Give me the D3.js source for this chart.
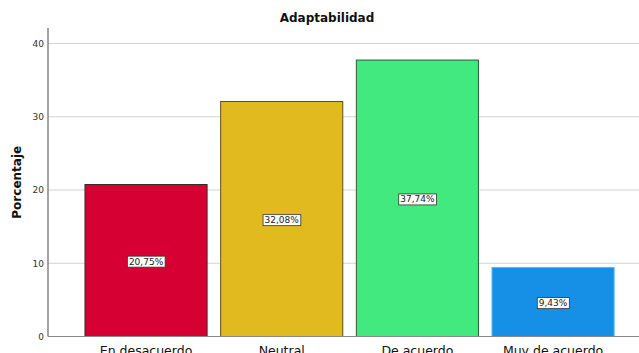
<!DOCTYPE html>
<html>
<head>
<meta charset="utf-8">
<script src="https://cdn.jsdelivr.net/npm/d3@7"></script>
<style>
  html, body { margin: 0; padding: 0; background: #fff; }
  svg { display: block; }
</style>
</head>
<body>
<svg id="chart" width="639" height="353"></svg>
<script>
// Response categories and their percentages
const categories = ["En desacuerdo", "Neutral", "De acuerdo", "Muy de acuerdo"];
const percentages = [20.75, 32.08, 37.74, 9.43];
const valueLabels = ["20,75%", "32,08%", "37,74%", "9,43%"];
const barColors = ["#D70032", "#E1BA20", "#42E97E", "#1590E6"];
const barStrokes = ["#3a2a2a", "#5a5020", "#2a5a3a", "#5ab4f0"];
const yTicks = [0, 10, 20, 30, 40];

const width = 639, height = 353;
const plot = { left: 48, right: 639, top: 28, bottom: 336.5 };

const svg = d3.select("#chart");
const font = "'DejaVu Sans', sans-serif";

const x = d3.scaleBand()
  .domain(categories)
  .range([78.2, 620.9])
  .paddingInner(0.1)
  .paddingOuter(0.05);

const y = d3.scaleLinear()
  .domain([0, 40])
  .range([plot.bottom, 43.5]);

// Horizontal gridlines
svg.append("g")
  .selectAll("line")
  .data(yTicks.filter(d => d > 0))
  .join("line")
  .attr("x1", plot.left)
  .attr("x2", plot.right)
  .attr("y1", d => y(d))
  .attr("y2", d => y(d))
  .attr("stroke", "#d4d4d4")
  .attr("stroke-width", 1);

// Y axis with tick labels
const yAxis = svg.append("g")
  .attr("transform", `translate(${plot.left},0)`)
  .call(d3.axisLeft(y).tickValues(yTicks).tickSize(0).tickPadding(4));
yAxis.select(".domain").remove();
yAxis.selectAll("text")
  .attr("font-family", font)
  .attr("font-size", 9)
  .attr("fill", "#333");

svg.append("line")
  .attr("x1", plot.left).attr("x2", plot.left)
  .attr("y1", plot.top).attr("y2", plot.bottom)
  .attr("stroke", "#666").attr("stroke-width", 1.2);

// Bars
svg.append("g")
  .selectAll("rect")
  .data(categories)
  .join("rect")
  .attr("x", d => x(d))
  .attr("y", (d, i) => y(percentages[i]))
  .attr("width", x.bandwidth())
  .attr("height", (d, i) => y(0) - y(percentages[i]))
  .attr("fill", (d, i) => barColors[i])
  .attr("stroke", (d, i) => barStrokes[i])
  .attr("stroke-width", 1);

// Baseline
svg.append("line")
  .attr("x1", plot.left).attr("x2", plot.right)
  .attr("y1", plot.bottom).attr("y2", plot.bottom)
  .attr("stroke", "#8a8a8a").attr("stroke-width", 1.2);

// Boxed value labels at bar mid-height
const labels = svg.append("g")
  .selectAll("g")
  .data(categories)
  .join("g")
  .attr("transform", (d, i) =>
    `translate(${x(d) + x.bandwidth() / 2},${y(percentages[i] / 2) + 1})`);

labels.each(function (d, i) {
  const g = d3.select(this);
  const t = g.append("text")
    .attr("text-anchor", "middle")
    .attr("dy", "0.35em")
    .attr("font-family", font)
    .attr("font-size", 9)
    .attr("fill", "#222")
    .text(valueLabels[i]);
  const bb = t.node().getBBox();
  g.insert("rect", "text")
    .attr("x", bb.x - 1.5)
    .attr("y", bb.y - 0.5)
    .attr("width", bb.width + 3)
    .attr("height", bb.height + 1)
    .attr("fill", "#fff")
    .attr("stroke", "#333")
    .attr("stroke-width", 0.8);
});

// Category labels
svg.append("g")
  .selectAll("text")
  .data(categories)
  .join("text")
  .attr("x", d => x(d) + x.bandwidth() / 2)
  .attr("y", 354.5)
  .attr("text-anchor", "middle")
  .attr("font-family", font)
  .attr("font-size", 12.5)
  .attr("fill", "#111")
  .text(d => d);

// Y axis title
svg.append("text")
  .attr("transform", `translate(21,${(plot.top + plot.bottom) / 2}) rotate(-90)`)
  .attr("text-anchor", "middle")
  .attr("font-family", font)
  .attr("font-size", 12)
  .attr("font-weight", "bold")
  .attr("fill", "#111")
  .text("Porcentaje");

// Chart title
svg.append("text")
  .attr("x", 327)
  .attr("y", 22)
  .attr("text-anchor", "middle")
  .attr("font-family", font)
  .attr("font-size", 12)
  .attr("font-weight", "bold")
  .attr("fill", "#111")
  .text("Adaptabilidad");
</script>
</body>
</html>
